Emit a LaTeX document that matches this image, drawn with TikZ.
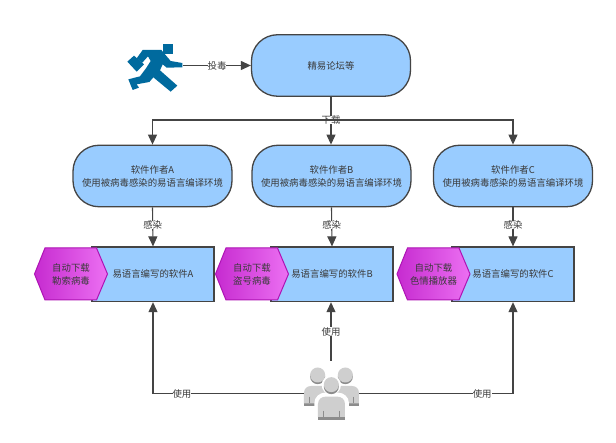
\documentclass[tikz,border=0pt]{standalone}
\usepackage{fontspec}
\setmainfont{Noto Sans CJK SC}
\usetikzlibrary{arrows.meta}
\definecolor{boxblue}{HTML}{99CCFF}
\definecolor{edge}{HTML}{444444}
\definecolor{txt}{HTML}{3A3A3A}
\definecolor{runblue}{HTML}{006A9E}
\definecolor{hexl}{HTML}{C62BD0}
\definecolor{hexr}{HTML}{EC70F2}
\definecolor{hexe}{HTML}{AE14B4}
\definecolor{pplf}{HTML}{CFCFCF}
\definecolor{ppls}{HTML}{8C8C8C}
\tikzset{
  base/.style={font=\fontsize{9.4}{13}\selectfont,text=txt,align=center},
  roundbox/.style={base,draw=edge,line width=1.3pt,fill=boxblue,rounded corners=26pt,minimum width=159pt,minimum height=61.5pt,inner sep=0pt},
  softbox/.style={base,draw=edge,line width=1.3pt,fill=boxblue,minimum width=122pt,minimum height=54.5pt,inner sep=0pt},
  hexshape/.style={draw=hexe,line width=1pt,left color=hexl,right color=hexr},
  hexbox/.style={base,inner sep=0pt,minimum width=72pt,minimum height=52pt},
  edgelabel/.style={base,fill=white,inner sep=0pt},
  conn/.style={draw=edge,line width=1.1pt},
  arrow/.style={conn,-{Triangle[length=10pt,width=9pt]}},
}
\newcommand{\hexat}[1]{\path[hexshape] (#1-36.5,274)--(#1-26,248)--(#1+25.5,248)--(#1+36.5,274)--(#1+25.5,300)--(#1-26,300)--cycle;}
\begin{document}
\begin{tikzpicture}[x=1pt,y=-1pt]
\useasboundingbox (0,0) rectangle (616,443);
\fill[white] (0,0) rectangle (616,443);

\node[roundbox] (forum) at (331,65.5) {精易论坛等};
\node[roundbox] (authA) at (152.5,176) {软件作者A\\使用被病毒感染的易语言编译环境};
\node[roundbox] (authB) at (331.5,176) {软件作者B\\使用被病毒感染的易语言编译环境};
\node[roundbox] (authC) at (513,176) {软件作者C\\使用被病毒感染的易语言编译环境};
\node[softbox] (softA) at (153,274.3) {易语言编写的软件A};
\node[softbox] (softB) at (332,274.3) {易语言编写的软件B};
\node[softbox] (softC) at (513,274.3) {易语言编写的软件C};
\hexat{71}
\hexat{252}
\hexat{433.5}
\node[hexbox] (hexA) at (71,274) {自动下载\\勒索病毒};
\node[hexbox] (hexB) at (252,274) {自动下载\\盗号病毒};
\node[hexbox] (hexC) at (433.5,274) {自动下载\\色情播放器};

% invisible anchors for the two icons
\node[inner sep=0pt,minimum width=56pt,minimum height=46pt] (runner) at (155,67) {};
\node[inner sep=0pt,minimum width=55pt,minimum height=53pt] (people) at (331.5,393.5) {};
\coordinate (trunk) at (331,120);
\coordinate (pup) at (331,361);

% runner
\begin{scope}[shift={(120,35)},x=0.3333pt,y=-0.3333pt]
  \fill[runblue] (128,27)--(158,27)--(158,57)--(128,57)--cycle;
  \fill[runblue] (68,45)--(124,45)--(152,78)--(187,84)--(187,97)--(140,98)--(128,88)--(120,106)--(172,152)--(152,170)--(100,127)--(88,141)--(50,148)--(57,158)--(38,165)--(25,133)--(60,124)--(78,100)--(92,78)--(84,64)--(66,84)--(50,70)--cycle;
  \fill[runblue] (22,80)--(42,62)--(72,88)--(50,110)--cycle;
\end{scope}

% people
\begin{scope}[shift={(260,340)},x=0.3333pt,y=-0.3333pt]
  \foreach \cx in {173,256}{
    \fill[ppls] (\cx,110) circle[radius=22.5pt*0.3333];
    \fill[pplf] (\cx,105) circle[radius=22.5pt*0.3333];
    \fill[ppls] (\cx-41,198)--(\cx+41,198)--(\cx+41,190)--(\cx-41,190)--cycle;
    \fill[pplf] (\cx-41,190)--(\cx-41,158) .. controls (\cx-41,145) and (\cx-30,138) .. (\cx-20,138)--(\cx+20,138) .. controls (\cx+30,138) and (\cx+41,145) .. (\cx+41,158)--(\cx+41,190)--cycle;
    \draw[ppls,line width=0.7pt] (\cx-24,170)--(\cx-24,190) (\cx+24,170)--(\cx+24,190);
  }
  \fill[white] (163,240)--(163,190) .. controls (163,170) and (180,158) .. (195,158)--(235,158) .. controls (250,158) and (267,170) .. (267,190)--(267,240)--cycle;
  \fill[white] (214,135) circle[radius=29pt*0.3333];
  \fill[ppls] (214,140) circle[radius=22.5pt*0.3333];
  \fill[pplf] (214,134) circle[radius=22.5pt*0.3333];
  \fill[ppls] (174,240)--(255,240)--(255,231)--(174,231)--cycle;
  \fill[pplf] (174,231)--(174,192) .. controls (174,178) and (185,170) .. (197,170)--(232,170) .. controls (244,170) and (255,178) .. (255,192)--(255,231)--cycle;
  \draw[ppls,line width=0.7pt] (190,212)--(190,231) (239,212)--(239,231);
\end{scope}

% connectors
\draw[arrow] (runner.east |- forum.west) -- node[edgelabel]{投毒} (forum.west);
\draw[conn] (forum.south) -- (trunk);
\draw[arrow] (trunk) -- (authB.north -| trunk);
\node[edgelabel] (dl) at (trunk) {下载};
\draw[arrow] (trunk) -| (authA.north);
\draw[arrow] (trunk) -| (authC.north);
\draw[arrow] (authA.south) -- node[edgelabel,pos=.45]{感染} (softA.north);
\draw[arrow] (authB.south) -- node[edgelabel,pos=.45]{感染} (softB.north);
\draw[arrow] (authC.south) -- node[edgelabel,pos=.45]{感染} (softC.north);
\draw[arrow] (people.west) -| node[edgelabel,pos=.404]{使用} (softA.south);
\draw[arrow] (people.east) -| node[edgelabel,pos=.4]{使用} (softC.south);
\draw[arrow] (pup) -- node[edgelabel,pos=.5]{使用} (pup |- softB.south);
\end{tikzpicture}
\end{document}
